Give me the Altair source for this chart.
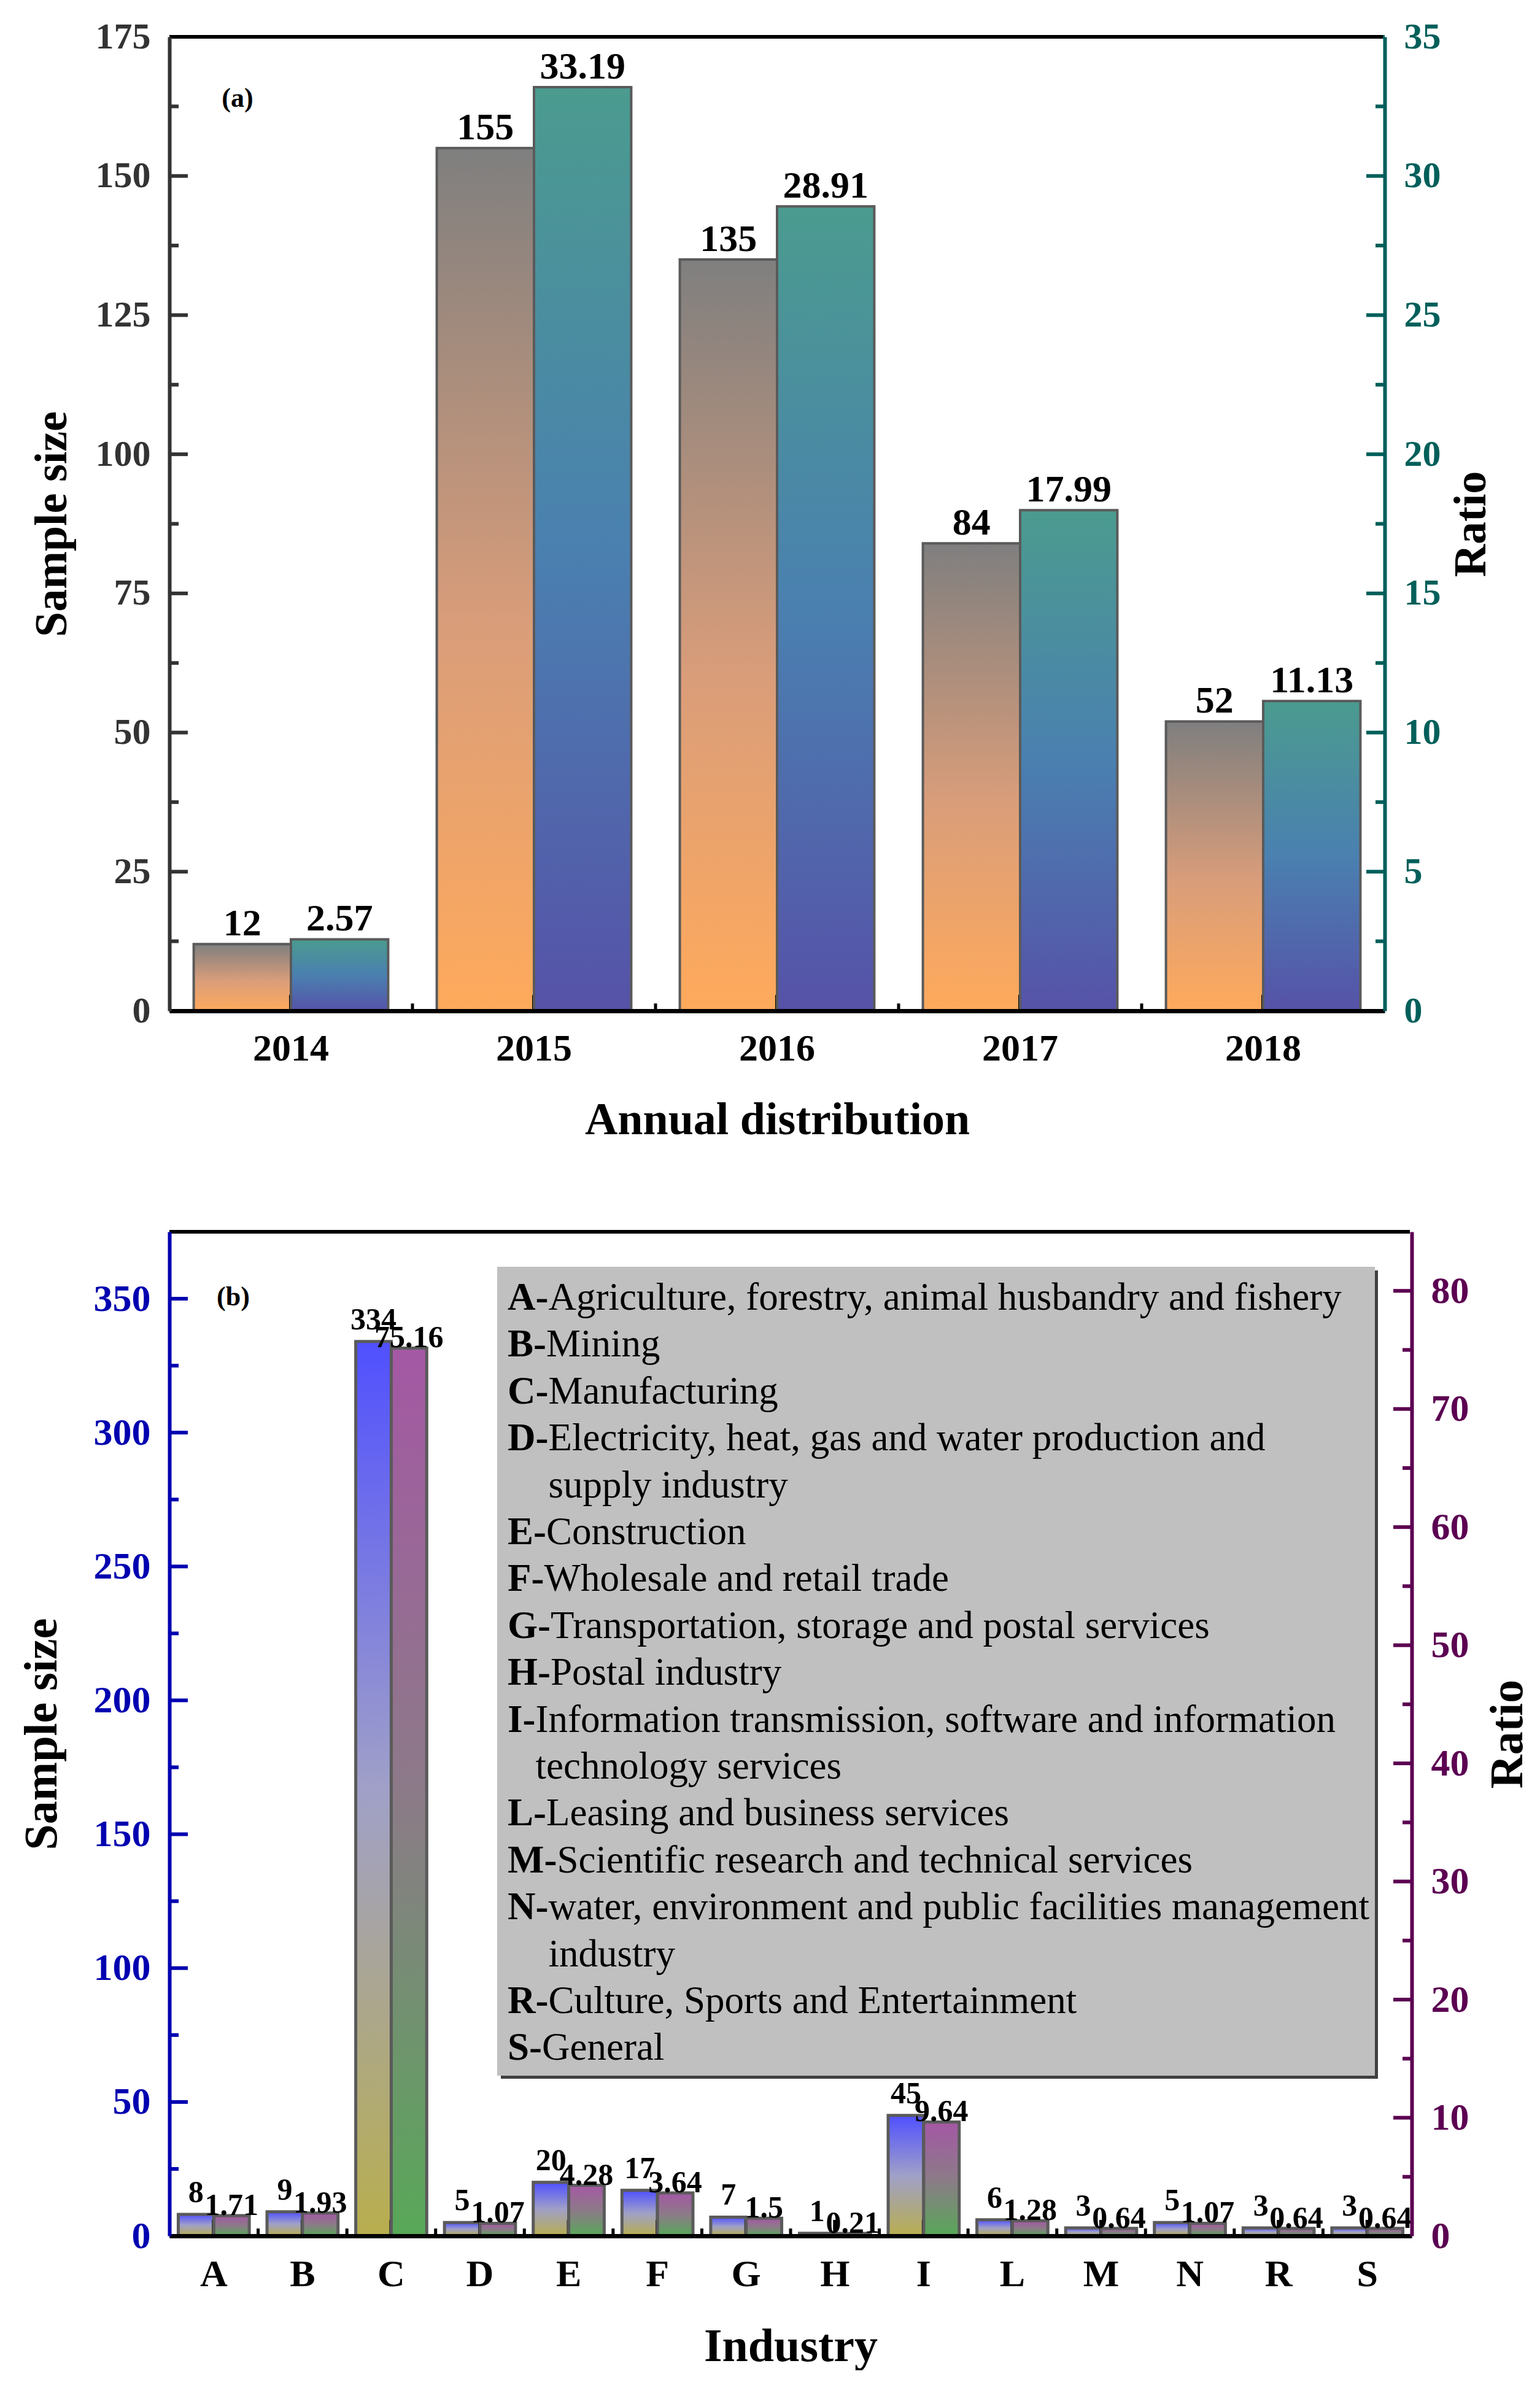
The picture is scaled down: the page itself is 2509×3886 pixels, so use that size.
import altair as alt
import pandas as pd

FONT = "Liberation Serif"

# ---------------- data ----------------
years = ["2014", "2015", "2016", "2017", "2018"]
year_samples = [12, 155, 135, 84, 52]
year_ratios = [2.57, 33.19, 28.91, 17.99, 11.13]

industries = ["A", "B", "C", "D", "E", "F", "G", "H", "I", "L", "M", "N", "R", "S"]
ind_samples = [8, 9, 334, 5, 20, 17, 7, 1, 45, 6, 3, 5, 3, 3]
ind_ratios = [1.71, 1.93, 75.16, 1.07, 4.28, 3.64, 1.5, 0.21, 9.64, 1.28, 0.64, 1.07, 0.64, 0.64]

a_left_major = [0, 25, 50, 75, 100, 125, 150, 175]
a_left_minor = [12.5, 37.5, 62.5, 87.5, 112.5, 137.5, 162.5]
a_right_major = [0, 5, 10, 15, 20, 25, 30, 35]
a_right_minor = [2.5, 7.5, 12.5, 17.5, 22.5, 27.5, 32.5]
b_left_major = [0, 50, 100, 150, 200, 250, 300, 350]
b_left_minor = [25, 75, 125, 175, 225, 275, 325]
b_right_major = [0, 10, 20, 30, 40, 50, 60, 70, 80]
b_right_minor = [5, 15, 25, 35, 45, 55, 65, 75]

legend_keys = ["A", "B", "C", "D", "", "E", "F", "G", "H", "I", "", "L", "M", "N", "", "R", "S"]
legend_texts = [
    "Agriculture, forestry, animal husbandry and fishery",
    "Mining",
    "Manufacturing",
    "Electricity, heat, gas and water production and",
    "supply industry",
    "Construction",
    "Wholesale and retail trade",
    "Transportation, storage and postal services",
    "Postal industry",
    "Information transmission, software and information",
    "technology services",
    "Leasing and business services",
    "Scientific research and technical services",
    "water, environment and public facilities management",
    "industry",
    "Culture, Sports and Entertainment",
    "General",
]

# bold glyph advance widths (per 1000 em) of the serif font, for the legend layout
BOLD_W = {"A": 722, "B": 667, "C": 722, "D": 722, "E": 667, "F": 611, "G": 778,
          "H": 778, "I": 389, "L": 667, "M": 944, "N": 722, "R": 722, "S": 556, "-": 333}


def grad(stops):
    return alt.Gradient(
        gradient="linear",
        stops=[alt.GradientStop(color=c, offset=o) for o, c in stops],
        x1=0, x2=0, y1=1, y2=0,
    )


def make_panel(cats, samples, ratios, W, H, domL, domR, ticksL, ticksR,
               colL, colR, grad_n, grad_r, xtitle, tag, tag_xy,
               tick_fs, title_fs, val_fs, dy_n, dy_r, bar_sw,
               tpL, tpR, tpX, lpX, legend=None):
    n = len(cats)
    step = W / n
    xs = alt.Scale(domain=cats, paddingInner=0.2, paddingOuter=0.1)
    xos = alt.Scale(domain=["n", "r"], paddingInner=0, paddingOuter=0)
    ysL = alt.Scale(domain=domL, nice=False, zero=True)
    ysR = alt.Scale(domain=domR, nice=False, zero=True)

    xaxis = alt.Axis(title=xtitle, labelAngle=0, ticks=False, domainColor="black",
                     domainWidth=7, labelColor="black", labelFont=FONT,
                     labelFontSize=62, labelFontWeight="bold", labelPadding=lpX,
                     titleFont=FONT, titleFontSize=title_fs, titleFontWeight="bold",
                     titleColor="black", titlePadding=tpX, zindex=1, grid=False)
    axL = alt.Axis(orient="left", title="Sample size", values=ticksL[0], ticks=False,
                   domainColor=colL, domainWidth=6, labelColor=colL, labelFont=FONT,
                   labelFontSize=tick_fs, labelFontWeight="bold", labelPadding=31,
                   titleFont=FONT, titleFontSize=title_fs, titleFontWeight="bold",
                   titleColor="black", titlePadding=tpL, zindex=1, grid=False)
    axR = alt.Axis(orient="right", title="Ratio", values=ticksR[0], ticks=False,
                   domainColor=colR, domainWidth=6, labelColor=colR, labelFont=FONT,
                   labelFontSize=tick_fs, labelFontWeight="bold", labelPadding=31,
                   titleFont=FONT, titleFontSize=title_fs, titleFontWeight="bold",
                   titleColor="black", titlePadding=tpR, titleAngle=270,
                   titleBaseline="top", zindex=1, grid=False)

    def X(axis=xaxis):
        return alt.X("cat:N", scale=xs, axis=axis, sort=cats)

    def XO():
        return alt.XOffset("series:N", scale=xos)

    def YL():
        return alt.Y("val:Q", scale=ysL, axis=axL)

    def YR():
        return alt.Y("val:Q", scale=ysR, axis=axR)

    df_n = pd.DataFrame({"cat": cats, "series": "n", "val": samples,
                         "lab": [str(v) for v in samples]})
    df_r = pd.DataFrame({"cat": cats, "series": "r", "val": ratios,
                         "lab": [str(v) for v in ratios]})

    bars_n = alt.Chart(df_n).mark_bar(fill=grad_n, stroke="#5a5a5a", strokeWidth=bar_sw).encode(
        x=X(), xOffset=XO(), y=YL())
    text_n = alt.Chart(df_n).mark_text(font=FONT, fontSize=val_fs, fontWeight="bold",
                                       baseline="alphabetic", dy=dy_n, color="black").encode(
        x=X(), xOffset=XO(), y=YL(), text="lab:N")
    tLmaj = alt.Chart(pd.DataFrame({"val": ticksL[0]})).mark_rule(color=colL, strokeWidth=6).encode(
        y=YL(), x=alt.value(0), x2=alt.value(30))
    tLmin = alt.Chart(pd.DataFrame({"val": ticksL[1]})).mark_rule(color=colL, strokeWidth=6).encode(
        y=YL(), x=alt.value(0), x2=alt.value(15))
    xt_c = alt.Chart(pd.DataFrame({"cat": cats})).mark_rule(color="black", strokeWidth=6).encode(
        x=X(), y=alt.value(H - 26), y2=alt.value(H))
    xt_b = alt.Chart(pd.DataFrame({"cat": cats[1:]})).mark_rule(
        color="black", strokeWidth=5, xOffset=-step / 2).encode(
        x=X(), y=alt.value(H - 12), y2=alt.value(H))
    left = alt.layer(bars_n, text_n, tLmaj, tLmin, xt_c, xt_b)

    bars_r = alt.Chart(df_r).mark_bar(fill=grad_r, stroke="#5a5a5a", strokeWidth=bar_sw).encode(
        x=X(), xOffset=XO(), y=YR())
    text_r = alt.Chart(df_r).mark_text(font=FONT, fontSize=val_fs, fontWeight="bold",
                                       baseline="alphabetic", dy=dy_r, color="black").encode(
        x=X(), xOffset=XO(), y=YR(), text="lab:N")
    tRmaj = alt.Chart(pd.DataFrame({"val": ticksR[0]})).mark_rule(color=colR, strokeWidth=6).encode(
        y=YR(), x=alt.value(W - 30), x2=alt.value(W))
    tRmin = alt.Chart(pd.DataFrame({"val": ticksR[1]})).mark_rule(color=colR, strokeWidth=6).encode(
        y=YR(), x=alt.value(W - 15), x2=alt.value(W))
    right = alt.layer(bars_r, text_r, tRmaj, tRmin)

    one = pd.DataFrame({"k": [0]})
    frame = alt.Chart(one).mark_rule(color="black", strokeWidth=6).encode(
        x=alt.value(0), x2=alt.value(W - 3), y=alt.value(0))
    tagm = alt.Chart(pd.DataFrame({"t": [tag]})).mark_text(
        font=FONT, fontSize=44, fontWeight="bold", align="center", baseline="middle",
        color="black").encode(x=alt.value(tag_xy[0]), y=alt.value(tag_xy[1]), text="t:N")
    annot_layers = [frame, tagm]

    if legend is not None:
        bx0, bx1, by0, by1, tx0, ty0, lh, fs = legend
        keys, texts = legend_keys, legend_texts
        px_text = []
        prev = tx0
        for k in keys:
            if k:
                prev = tx0 + (BOLD_W[k] + BOLD_W["-"]) / 1000 * fs
            px_text.append(prev)
        leg = pd.DataFrame({
            "key": [k + "-" if k else "" for k in keys],
            "txt": texts,
            "px_key": [tx0] * len(keys),
            "px_txt": px_text,
            "py": [ty0 + i * lh for i in range(len(keys))],
        })
        shadow = alt.Chart(one).mark_rect(color="#404040").encode(
            x=alt.value(bx0 + 6), x2=alt.value(bx1 + 5), y=alt.value(by0 + 6), y2=alt.value(by1 + 5))
        box = alt.Chart(one).mark_rect(color="#c0c0c0").encode(
            x=alt.value(bx0), x2=alt.value(bx1), y=alt.value(by0), y2=alt.value(by1))
        kt = alt.Chart(leg).transform_filter("datum.key != ''").mark_text(
            font=FONT, fontSize=fs, fontWeight="bold", align="left", baseline="alphabetic",
            color="black").encode(
            x=alt.X("px_key:Q", scale=None, axis=None),
            y=alt.Y("py:Q", scale=None, axis=None), text="key:N")
        tt = alt.Chart(leg).mark_text(
            font=FONT, fontSize=fs, fontWeight="normal", align="left", baseline="alphabetic",
            color="black").encode(
            x=alt.X("px_txt:Q", scale=None, axis=None),
            y=alt.Y("py:Q", scale=None, axis=None), text="txt:N")
        annot_layers += [shadow, box, kt, tt]

    annot = alt.layer(*annot_layers)
    return alt.layer(left, right, annot).resolve_scale(y="independent").properties(width=W, height=H)


panelA = make_panel(
    years, year_samples, year_ratios, 1980, 1587, [0, 175], [0, 35],
    (a_left_major, a_left_minor), (a_right_major, a_right_minor),
    "#333333", "#005f5a",
    grad([(0, "#FFAA5C"), (0.45, "#D99D7A"), (1, "#7F7F7F")]),
    grad([(0, "#5652A8"), (0.5, "#4A80B0"), (1, "#4B9B8F")]),
    "Annual distribution", "(a)", (111, 101),
    60, 74, 62, -14, -14, 4,
    32, 14, 50, 31,
)

panelB = make_panel(
    industries, ind_samples, ind_ratios, 2024, 1636, [0, 375], [0, 85],
    (b_left_major, b_left_minor), (b_right_major, b_right_minor),
    "#0000b0", "#5c0052",
    grad([(0, "#B8AE4E"), (0.5, "#A0A0C8"), (1, "#5050FF")]),
    grad([(0, "#58A858"), (0.5, "#8C7A88"), (1, "#A458A4")]),
    "Industry", "(b)", (104, 107),
    62, 76, 50, -20, -1, 5,
    45, 26, 50, 32,
    legend=(534, 1964, 57, 1375, 551, 127, 76.4, 63),
)

chart = alt.concat(panelA, panelB, columns=1, spacing=140).resolve_scale(
    x="independent", xOffset="independent"
).properties(
    padding={"left": 21, "top": 21, "right": 0, "bottom": 0},
).configure_view(stroke=None).configure(background="white")

chart.save("out.html", embed_options={"renderer": "svg", "actions": False})
